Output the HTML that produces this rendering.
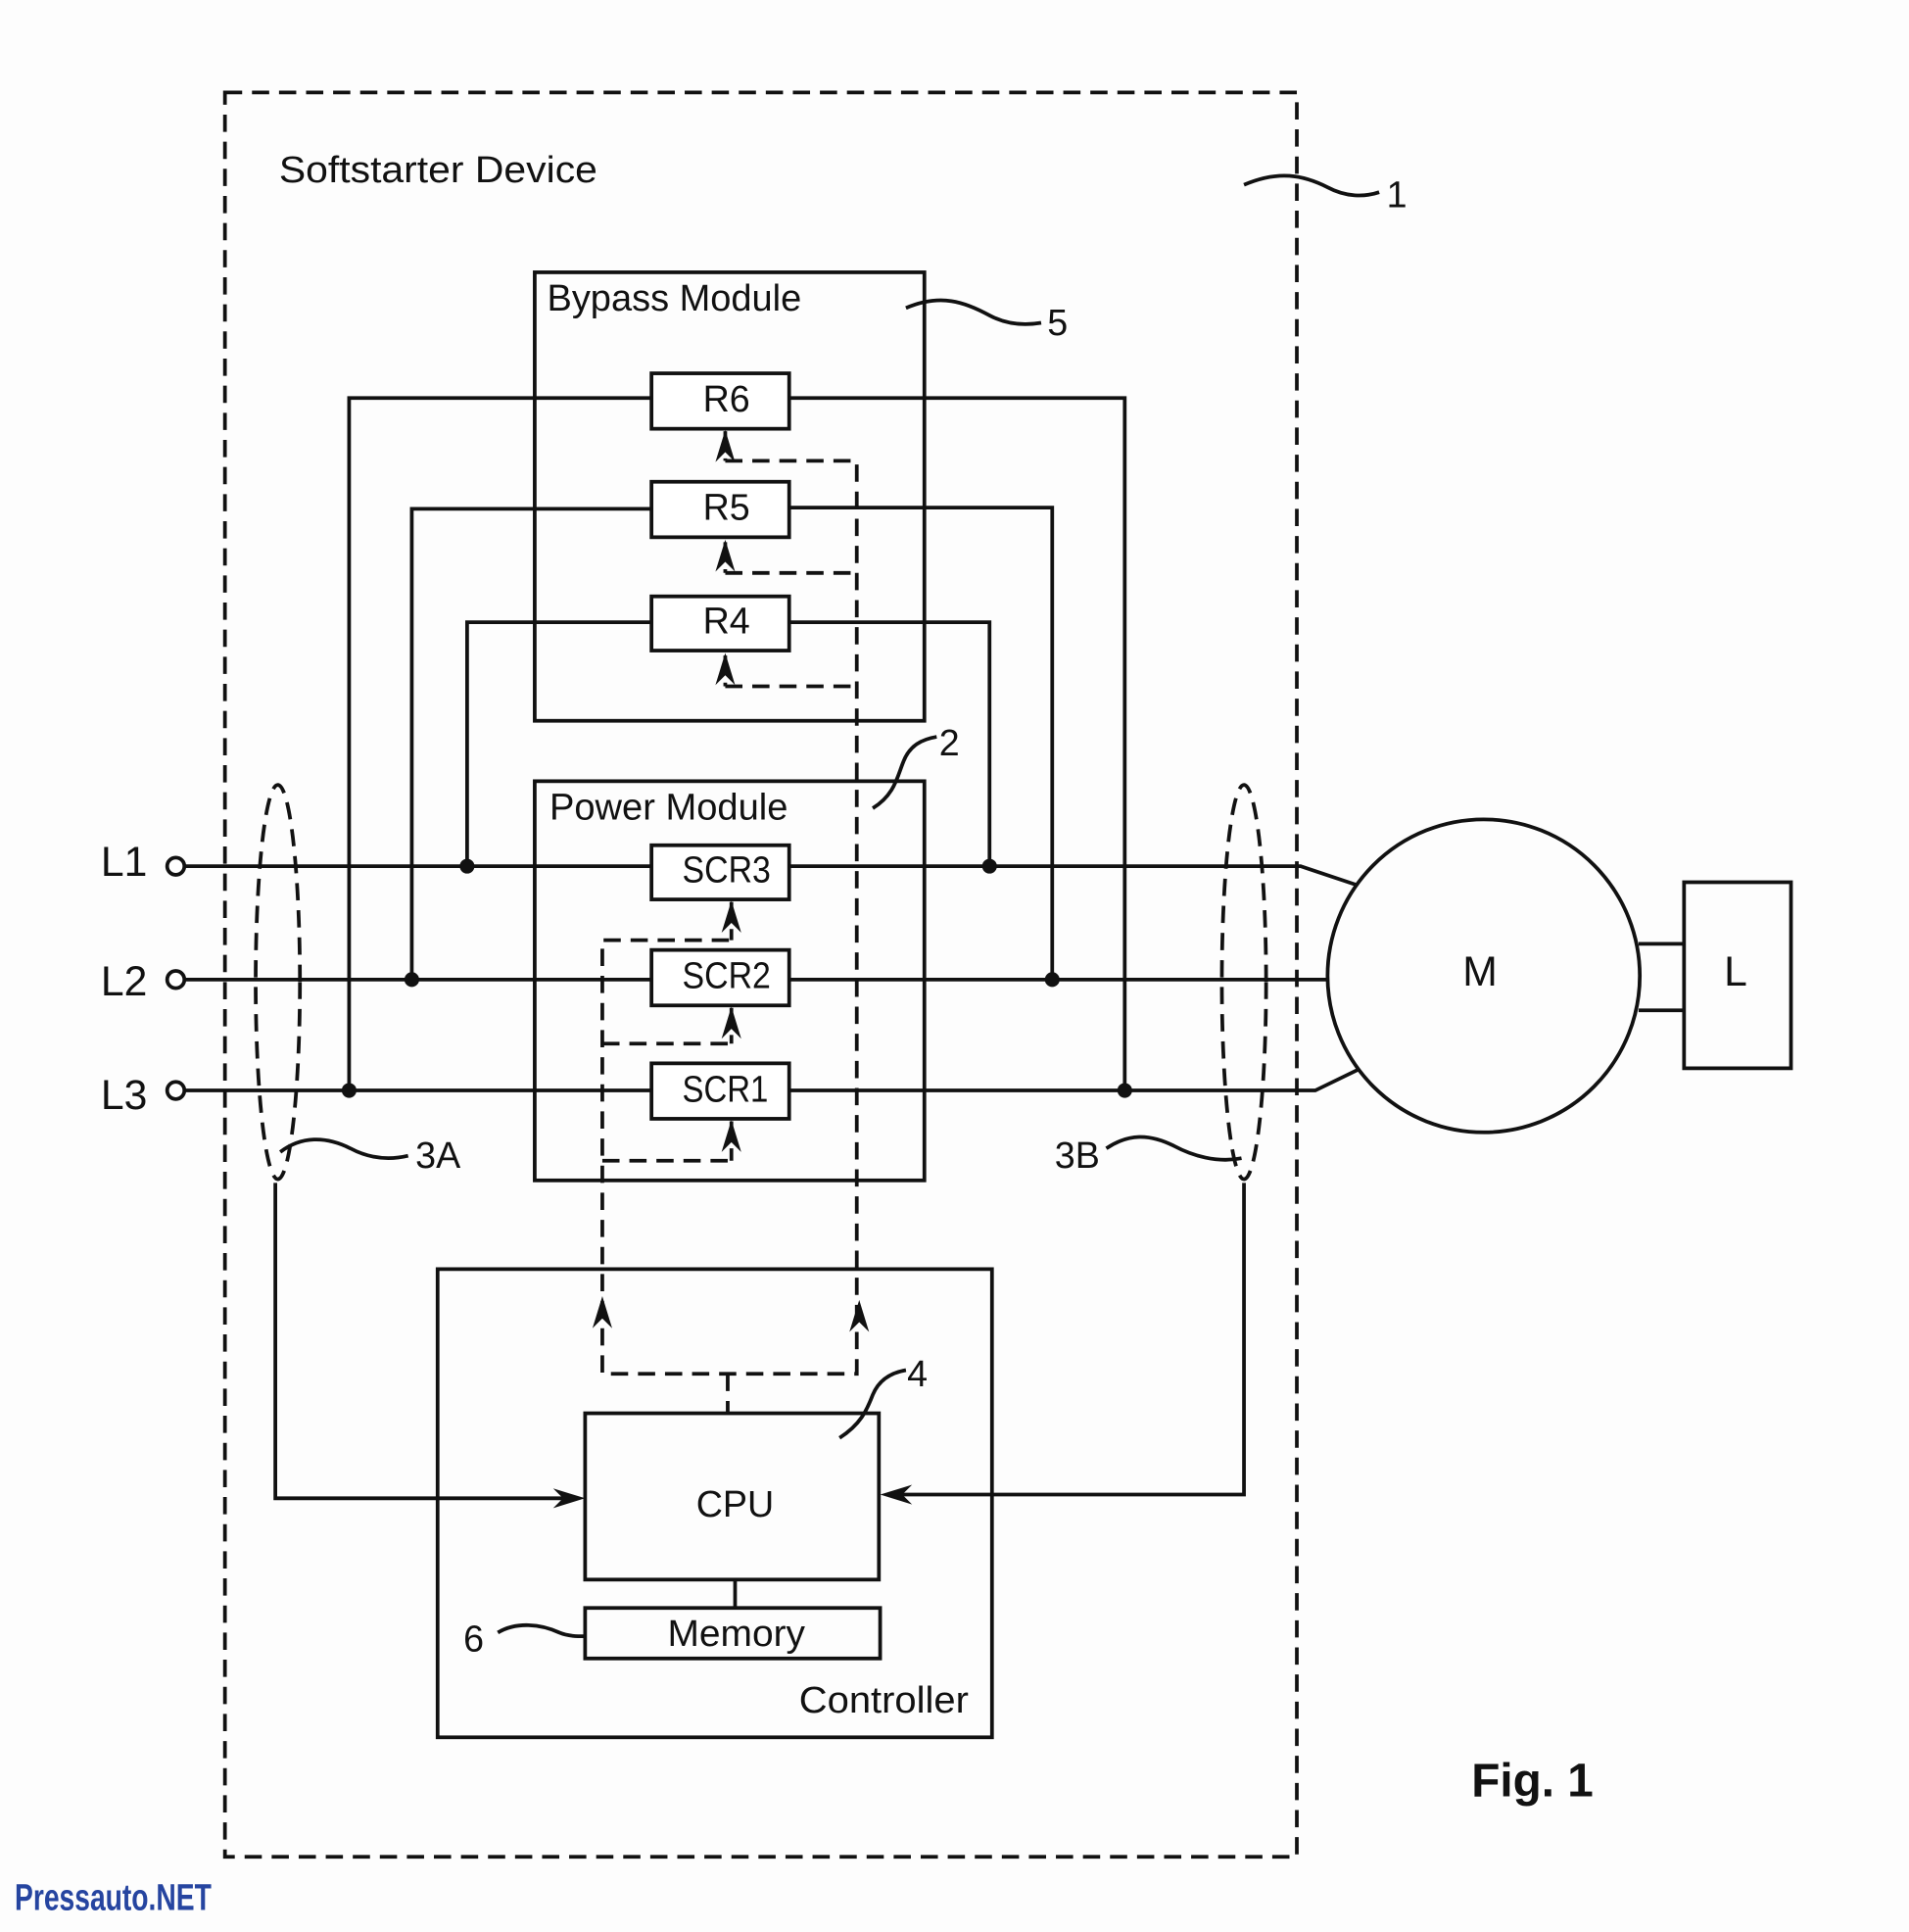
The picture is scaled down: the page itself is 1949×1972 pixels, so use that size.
<!DOCTYPE html>
<html><head><meta charset="utf-8"><style>
html,body{margin:0;padding:0;background:#fdfdfd;}
svg{display:block;}
text{font-family:"Liberation Sans",sans-serif;fill:#111;}
</style></head><body>
<svg width="1949" height="1972" viewBox="0 0 1553 1568" preserveAspectRatio="none" xmlns="http://www.w3.org/2000/svg">
<defs>
<path id="ar" d="M0,0 L-8,26 L0,18 L8,26 Z" fill="#111"/>
</defs>
<g fill="none" stroke="#111" stroke-width="3">
<rect x="183" y="75" width="872" height="1432" stroke-dasharray="14,8"/>
<rect x="435" y="221" width="317" height="364"/>
<rect x="435" y="634" width="317" height="324"/>
<rect x="530" y="303" width="112" height="45" fill="#fff"/>
<rect x="530" y="391" width="112" height="45" fill="#fff"/>
<rect x="530" y="484" width="112" height="44" fill="#fff"/>
<rect x="530" y="686" width="112" height="44" fill="#fff"/>
<rect x="530" y="771" width="112" height="45" fill="#fff"/>
<rect x="530" y="863" width="112" height="45" fill="#fff"/>
<polyline points="530,323 284,323 284,885"/>
<polyline points="642,323 915,323 915,885"/>
<polyline points="530,413 335,413 335,795"/>
<polyline points="642,412 856,412 856,795"/>
<polyline points="530,505 380,505 380,703"/>
<polyline points="642,505 805,505 805,703"/>
<polyline points="150,703 530,703"/>
<polyline points="642,703 1058,703 1103,718"/>
<polyline points="150,795 530,795"/>
<polyline points="642,795 1080,795"/>
<polyline points="150,885 530,885"/>
<polyline points="642,885 1070,885 1105,868"/>
<circle cx="143" cy="703" r="7" fill="#fff"/>
<circle cx="143" cy="795" r="7" fill="#fff"/>
<circle cx="143" cy="885" r="7" fill="#fff"/>
<circle cx="1207" cy="792" r="127"/>
<rect x="1370" y="716" width="87" height="151"/>
<line x1="1333" y1="766" x2="1370" y2="766"/>
<line x1="1333" y1="820" x2="1370" y2="820"/>
<ellipse cx="226" cy="797" rx="18" ry="160" stroke-dasharray="14,8"/>
<ellipse cx="1012" cy="797" rx="18" ry="160" stroke-dasharray="14,8"/>
<path d="M1012,150 C1040,138 1060,142 1080,152 C1095,160 1110,160 1122,156"/>
<path d="M737,250 C765,238 785,245 805,256 C820,264 835,264 847,262"/>
<path d="M710,656 C728,645 730,630 735,618 C740,605 750,600 762,598"/>
<path d="M228,935 C245,922 265,922 285,932 C300,940 315,942 332,938"/>
<path d="M900,932 C918,920 935,920 955,930 C970,938 990,944 1010,940"/>
<path d="M683,1167 C700,1156 705,1145 710,1132 C715,1120 725,1114 737,1112"/>
<path d="M405,1325 C420,1316 440,1318 455,1325 C462,1328 470,1328 476,1328"/>
<rect x="356" y="1030" width="451" height="380"/>
<rect x="476" y="1147" width="239" height="135"/>
<rect x="476" y="1305" width="240" height="41"/>
<line x1="598" y1="1282" x2="598" y2="1305"/>
<polyline points="224,960 224,1216 470,1216"/>
<polyline points="1012,960 1012,1213 722,1213"/>
<g stroke-dasharray="14,8">
<polyline points="590,374 697,374 697,1115 490,1115 490,763 595,763"/>
<polyline points="590,465 697,465"/>
<polyline points="590,557 697,557"/>
<polyline points="490,847 595,847"/>
<polyline points="490,942 595,942"/>
<line x1="590" y1="350" x2="590" y2="374"/>
<line x1="590" y1="440" x2="590" y2="465"/>
<line x1="590" y1="532" x2="590" y2="557"/>
<line x1="595" y1="732" x2="595" y2="763"/>
<line x1="595" y1="818" x2="595" y2="847"/>
<line x1="595" y1="910" x2="595" y2="942"/>
<line x1="592" y1="1115" x2="592" y2="1147"/>
</g>
</g>
<g fill="#111">
<circle cx="284" cy="885" r="6"/><circle cx="915" cy="885" r="6"/>
<circle cx="335" cy="795" r="6"/><circle cx="856" cy="795" r="6"/>
<circle cx="380" cy="703" r="6"/><circle cx="805" cy="703" r="6"/>
</g>
<use href="#ar" x="590" y="349"/>
<use href="#ar" x="590" y="438"/>
<use href="#ar" x="590" y="530"/>
<use href="#ar" x="595" y="731"/>
<use href="#ar" x="595" y="817"/>
<use href="#ar" x="595" y="909"/>
<use href="#ar" x="490" y="1052"/>
<use href="#ar" x="699" y="1055"/>
<path d="M476,1216 L450,1208 L458,1216 L450,1224 Z" fill="#111"/>
<path d="M716,1213 L742,1205 L734,1213 L742,1221 Z" fill="#111"/>
<g font-size="30">
<text x="227" y="148" textLength="259" lengthAdjust="spacingAndGlyphs">Softstarter Device</text>
<text x="1128" y="168">1</text>
<text x="445" y="252" textLength="207" lengthAdjust="spacingAndGlyphs">Bypass Module</text>
<text x="852" y="272">5</text>
<text x="447" y="665" textLength="194" lengthAdjust="spacingAndGlyphs">Power Module</text>
<text x="764" y="613">2</text>
<text x="591" y="334" text-anchor="middle">R6</text>
<text x="591" y="422" text-anchor="middle">R5</text>
<text x="591" y="514" text-anchor="middle">R4</text>
<text x="555" y="716" textLength="72" lengthAdjust="spacingAndGlyphs">SCR3</text>
<text x="555" y="802" textLength="72" lengthAdjust="spacingAndGlyphs">SCR2</text>
<text x="555" y="894" textLength="70" lengthAdjust="spacingAndGlyphs">SCR1</text>
<text x="338" y="948">3A</text>
<text x="858" y="948">3B</text>
<text x="598" y="1231" text-anchor="middle">CPU</text>
<text x="543" y="1336" textLength="112" lengthAdjust="spacingAndGlyphs">Memory</text>
<text x="650" y="1390" textLength="138" lengthAdjust="spacingAndGlyphs">Controller</text>
<text x="738" y="1125">4</text>
<text x="377" y="1340">6</text>
</g>
<g font-size="34">
<text x="82" y="711">L1</text>
<text x="82" y="808">L2</text>
<text x="82" y="900">L3</text>
<text x="1204" y="800" text-anchor="middle">M</text>
<text x="1412" y="800" text-anchor="middle">L</text>
</g>
<text x="1197" y="1458" font-size="38" font-weight="bold">Fig. 1</text>
<text x="12" y="1550" font-size="30" font-weight="bold" style="fill:#2645a0" textLength="160" lengthAdjust="spacingAndGlyphs">Pressauto.NET</text>
</svg>
</body></html>
